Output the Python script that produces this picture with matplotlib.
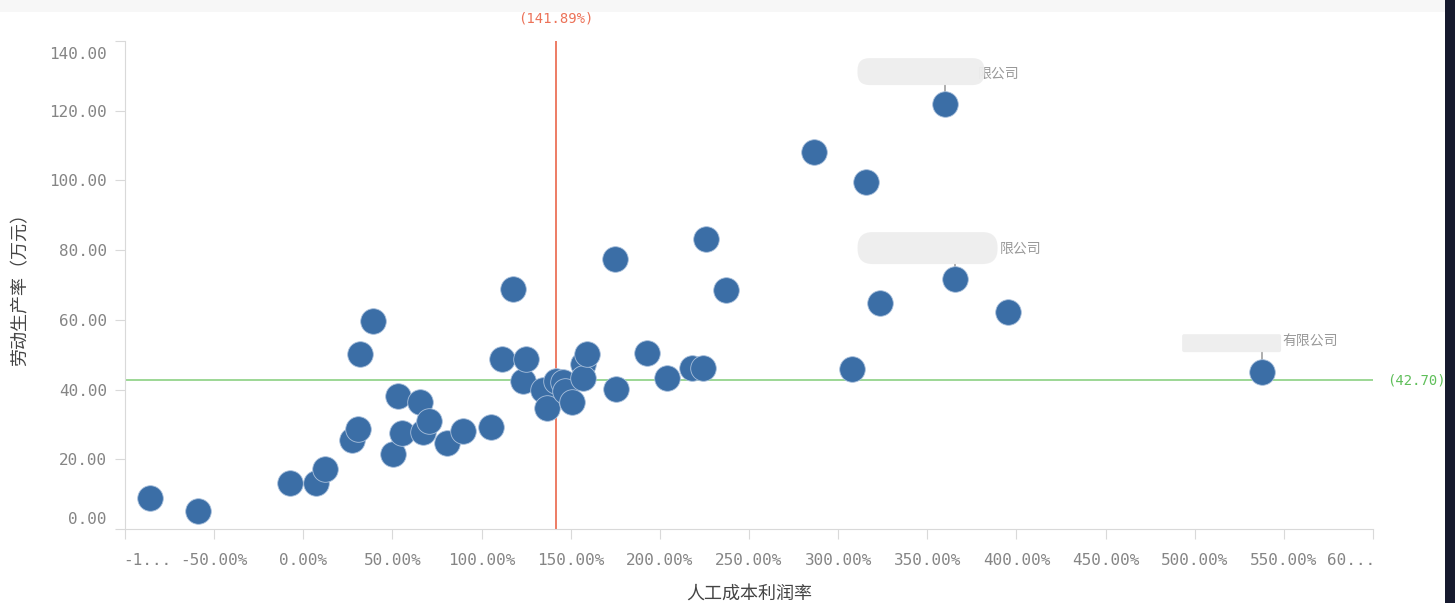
import matplotlib
matplotlib.use("Agg")
import matplotlib.pyplot as plt
import matplotlib.transforms as mtransforms
from matplotlib.patches import FancyBboxPatch, Rectangle

plt.rcParams['font.family'] = ['Noto Sans CJK SC', 'DejaVu Sans']

# 人工成本利润率 (%) / 劳动生产率 (万元)
profit_rate = [-85.7, -58.8, -7.3, 7.3, 12.3, 27.5, 30.8, 31.9, 39.2, 50.4,
               53.2, 55.5, 65.5, 67.2, 70.6, 80.7, 89.6, 105.3, 111.5, 117.6,
               123.2, 124.9, 134.5, 136.7, 141.7, 145.7, 146.8, 150.7, 156.9, 156.9,
               159.1, 174.8, 175.4, 192.7, 203.9, 217.9, 224.1, 225.8, 237.0, 286.3,
               307.6, 315.4, 323.2, 360.2, 365.3, 395.0, 537.8]
productivity = [8.9, 5.2, 13.2, 13.2, 17.2, 25.5, 28.7, 50.2, 59.7, 21.5,
                38.2, 27.5, 36.4, 27.8, 31.0, 24.7, 28.1, 29.3, 48.8, 68.8,
                42.5, 48.8, 39.9, 34.7, 42.5, 42.2, 39.6, 36.4, 47.3, 43.3,
                50.2, 77.5, 40.2, 50.5, 43.3, 46.2, 46.2, 83.2, 68.6, 108.1,
                45.9, 99.5, 64.8, 121.9, 71.7, 62.2, 45.0]

# reference lines
x_ref = 141.89
y_ref = 42.70

x_ticks = list(range(-100, 601, 50))
y_ticks = list(range(0, 141, 20))

# labelled companies: point index, visible part of the name
labelled = [(43, "限公司"), (44, "限公司"), (46, "有限公司")]

fig = plt.figure(figsize=(14.55, 6.03), dpi=100)
ax = fig.add_axes([125 / 1455, 74 / 603, 1248 / 1455, 488 / 603])

# frame strips around the canvas
fig.patches.append(Rectangle((0, 1 - 12 / 603), 1, 12 / 603, transform=fig.transFigure,
                             facecolor="#f7f7f7", edgecolor="none", zorder=0))
fig.patches.append(Rectangle((1 - 10 / 1455, 0), 10 / 1455, 1, transform=fig.transFigure,
                             facecolor="#161a2e", edgecolor="none", zorder=0))

ax.set_xlim(-100, 600)
ax.set_ylim(0, 140)

ax.axvline(x_ref, color="#ec7258", lw=1.3, zorder=1)
ax.axhline(y_ref, color="#94d48c", lw=1.3, zorder=1)

ax.scatter(profit_rate, productivity, s=340, color="#3b6ea6",
           edgecolors="#a9c0dc", linewidths=0.6, zorder=3)

for s in ["top", "right"]:
    ax.spines[s].set_visible(False)
for s in ["left", "bottom"]:
    ax.spines[s].set_color("#d9d9d9")

mono = "DejaVu Sans Mono"
ax.set_xticks(x_ticks)
xlabels = ["%.2f%%" % v for v in x_ticks]
xlabels[0] = "-1..."
xlabels[-1] = "60..."
ax.set_xticklabels(xlabels, family=mono, fontsize=11.5, color="#858585")
ax.set_yticks(y_ticks)
ax.set_yticklabels(["%.2f" % v for v in y_ticks], family=mono, fontsize=11.5,
                   color="#858585")
ax.tick_params(axis="both", length=7, color="#d9d9d9")
ax.tick_params(axis="x", pad=10)
ax.tick_params(axis="y", pad=6)

# end labels pulled inward so they stay inside the axis span
tl = ax.get_xticklabels()
tl[0].set_horizontalalignment("left")
tl[0].set_transform(tl[0].get_transform() + mtransforms.ScaledTranslation(-2 / 100, 0, fig.dpi_scale_trans))
tl[-1].set_horizontalalignment("right")
tl[-1].set_transform(tl[-1].get_transform() + mtransforms.ScaledTranslation(2 / 100, 0, fig.dpi_scale_trans))
yl = ax.get_yticklabels()
yl[0].set_transform(yl[0].get_transform() + mtransforms.ScaledTranslation(0, 11 / 100, fig.dpi_scale_trans))
yl[-1].set_transform(yl[-1].get_transform() + mtransforms.ScaledTranslation(0, -12 / 100, fig.dpi_scale_trans))

ax.set_xlabel("人工成本利润率", fontsize=13, color="#444444", labelpad=12)
ax.set_ylabel("劳动生产率（万元）", fontsize=13, color="#444444", labelpad=14)

ax.text(x_ref, 140, "(%.2f%%)" % x_ref, family=mono, fontsize=10, color="#ec7258",
        ha="center", va="bottom",
        transform=ax.transData + mtransforms.ScaledTranslation(0, 16 / 100, fig.dpi_scale_trans))
ax.text(1.011, y_ref, "(%.2f)" % y_ref, family=mono, fontsize=10, color="#5fbf5a",
        ha="left", va="center", transform=ax.get_yaxis_transform())

# company labels with the name blurred out
boxes = {43: (-88, 19, 127, 27, 12), 44: (-97, 15, 140, 32, 15), 46: (-80, 20, 99, 18, 2)}
text_dx = {43: 32, 44: 45, 46: 20}
for idx, name in labelled:
    px, py = ax.transData.transform((profit_rate[idx], productivity[idx]))
    bx, by, bw, bh, r = boxes[idx]
    ax.add_line(plt.Line2D([px, px], [py + 12, py + by], color="#a0a0a0", lw=1.2,
                           transform=mtransforms.IdentityTransform(), zorder=2, clip_on=False))
    ax.text(px + text_dx[idx], py + 30, name, fontsize=10, color="#999999",
            ha="left", va="center", transform=mtransforms.IdentityTransform(), zorder=4)
    ax.add_patch(FancyBboxPatch((px + bx, py + by), bw, bh,
                                boxstyle="round,pad=0,rounding_size=%d" % r,
                                facecolor="#eeeeee", edgecolor="none", alpha=0.95,
                                transform=mtransforms.IdentityTransform(), zorder=5,
                                clip_on=False))

fig.savefig("out.png", dpi=100)
